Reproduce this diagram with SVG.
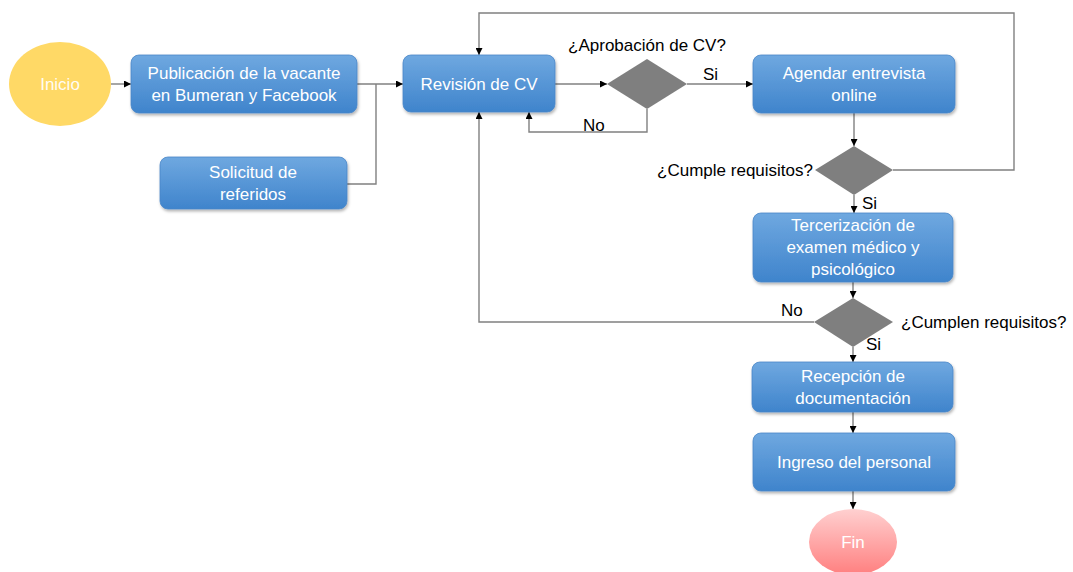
<svg xmlns="http://www.w3.org/2000/svg" width="1073" height="572" viewBox="0 0 1073 572">
<style>
.box{fill:url(#gBlue);stroke:#4a86c8;stroke-width:0.8;filter:url(#sh)}
.bt{font-family:"Liberation Sans",Arial,sans-serif;font-size:17px;fill:#ffffff;text-anchor:middle}
.lbl{font-family:"Liberation Sans",Arial,sans-serif;font-size:17px;fill:#000000}
.dia{fill:#7f7f7f}
.ln{fill:none;stroke:#808080;stroke-width:1.4}
.ar{fill:none;stroke:#808080;stroke-width:1.4;marker-end:url(#ah)}
</style>
<defs>
<linearGradient id="gBlue" x1="0" y1="0" x2="0" y2="1">
<stop offset="0" stop-color="#6fa8e0"/>
<stop offset="1" stop-color="#3f84cc"/>
</linearGradient>
<linearGradient id="gPink" x1="0" y1="0" x2="0" y2="1">
<stop offset="0" stop-color="#ffd0d0"/>
<stop offset="1" stop-color="#ff7f7f"/>
</linearGradient>
<filter id="sh" x="-10%" y="-10%" width="125%" height="140%">
<feDropShadow dx="1" dy="2" stdDeviation="1.5" flood-color="#000" flood-opacity="0.3"/>
</filter>
<marker id="ah" viewBox="0 0 10 10" refX="10" refY="5" markerWidth="7" markerHeight="7" markerUnits="userSpaceOnUse" orient="auto">
<path d="M0,0 L10,5 L0,10 z" fill="#000"/>
</marker>
</defs>

<g id="connectors">
<line class="ar" x1="111" y1="84" x2="131" y2="84"/>
<line class="ar" x1="357" y1="84" x2="403" y2="84"/>
<polyline class="ln" points="347,184 376,184 376,84"/>
<line class="ar" x1="555" y1="84" x2="607" y2="84"/>
<line class="ar" x1="687" y1="84" x2="753" y2="84"/>
<polyline class="ar" points="647,109 647,132 529,132 529,112"/>
<line class="ar" x1="854" y1="113" x2="854" y2="146"/>
<polyline class="ar" points="893,170 1014,170 1014,13 479,13 479,55"/>
<line class="ar" x1="854" y1="195" x2="854" y2="213"/>
<line class="ar" x1="853" y1="282" x2="853" y2="298"/>
<polyline class="ar" points="814,322 479,322 479,112"/>
<line class="ar" x1="853" y1="347" x2="853" y2="362"/>
<line class="ar" x1="853" y1="412" x2="853" y2="433"/>
<line class="ar" x1="853" y1="491" x2="853" y2="509"/>
<text class="lbl" x="703" y="80">Si</text>
<text class="lbl" x="583" y="131">No</text>
<text class="lbl" x="862" y="209">Si</text>
<text class="lbl" x="781" y="316">No</text>
<text class="lbl" x="866" y="350">Si</text>
</g>

<g id="inicio">
<ellipse cx="60" cy="84" rx="51" ry="42" fill="#ffd966"/>
<text class="bt" x="60" y="90" fill-opacity="0.95">Inicio</text>
</g>

<g id="publicacion">
<rect class="box" x="131" y="55" width="226" height="58" rx="8"/>
<text class="bt" x="244" y="79">Publicación de la vacante</text>
<text class="bt" x="244" y="101">en Bumeran y Facebook</text>
</g>

<g id="solicitud">
<rect class="box" x="160" y="157" width="187" height="52" rx="8"/>
<text class="bt" x="253" y="178">Solicitud de</text>
<text class="bt" x="253" y="200">referidos</text>
</g>

<g id="revision">
<rect class="box" x="403" y="55" width="152" height="57" rx="8"/>
<text class="bt" x="479" y="90">Revisión de CV</text>
</g>

<g id="aprobacion">
<polygon class="dia" points="607,84 647,59 687,84 647,109"/>
<text class="lbl" x="647" y="51" text-anchor="middle">¿Aprobación de CV?</text>
</g>

<g id="agendar">
<rect class="box" x="753" y="55" width="202" height="58" rx="8"/>
<text class="bt" x="854" y="79">Agendar entrevista</text>
<text class="bt" x="854" y="101">online</text>
</g>

<g id="cumple">
<polygon class="dia" points="815,170 854,146 893,170 854,195"/>
<text class="lbl" x="813" y="176" text-anchor="end">¿Cumple requisitos?</text>
</g>

<g id="tercerizacion">
<rect class="box" x="753" y="213" width="200" height="69" rx="8"/>
<text class="bt" x="853" y="231">Tercerización de</text>
<text class="bt" x="853" y="253">examen médico y</text>
<text class="bt" x="853" y="275">psicológico</text>
</g>

<g id="cumplen">
<polygon class="dia" points="814,322 853,298 893,322 853,347"/>
<text class="lbl" x="901" y="328">¿Cumplen requisitos?</text>
</g>

<g id="recepcion">
<rect class="box" x="752" y="362" width="201" height="50" rx="8"/>
<text class="bt" x="853" y="382">Recepción de</text>
<text class="bt" x="853" y="404">documentación</text>
</g>

<g id="ingreso">
<rect class="box" x="753" y="433" width="202" height="58" rx="8"/>
<text class="bt" x="854" y="468">Ingreso del personal</text>
</g>

<g id="fin">
<ellipse cx="853" cy="542" rx="44" ry="33" fill="url(#gPink)"/>
<text class="bt" x="853" y="548">Fin</text>
</g>
</svg>
